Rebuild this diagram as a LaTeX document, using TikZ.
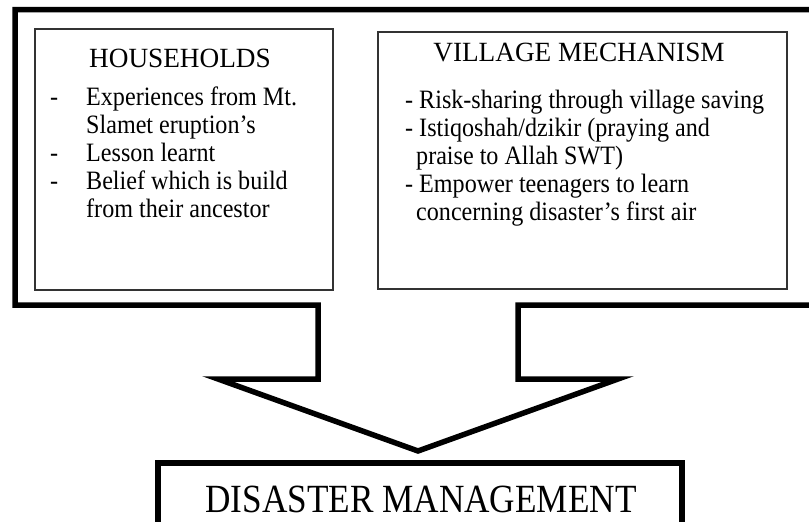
\documentclass[tikz,border=0pt]{standalone}
\usepackage{fontspec}
\setmainfont{Liberation Serif}
\newfontfamily\bodyfont{Liberation Serif}[FakeStretch=0.91]
\newfontfamily\headfont{Liberation Serif}[FakeStretch=0.98]
\newfontfamily\bigfont{Liberation Serif}[FakeStretch=0.88]
\begin{document}
\begin{tikzpicture}[x=1pt,y=-1pt,
  thickline/.style={line width=5.5pt,line join=miter},
  thinbox/.style={draw=black!80,line width=1.3pt},
  head/.style={anchor=base,inner sep=0pt,font=\headfont\fontsize{27.8}{32}\selectfont},
  body/.style={anchor=base west,inner sep=0pt,font=\bodyfont\fontsize{26.5}{32}\selectfont},
  big/.style={anchor=base,inner sep=0pt,font=\bigfont\fontsize{40}{48}\selectfont}]
\useasboundingbox (0,0) rectangle (809,522);
\clip (0,0) rectangle (809,522);
% outer frame with arrow
\draw[thickline] (840,9.5) -- (15,9.5) -- (15,305) -- (318,305) -- (318,379)
  -- (218,379) -- (418,451) -- (618,379) -- (518,379) -- (518,305) -- (840,305);
% inner boxes
\draw[thinbox] (35,29) rectangle (333,290);
\draw[thinbox] (378,32) rectangle (787,289);
% households
\node[head] (hh) at (180,67) {HOUSEHOLDS};
\node[body] (hd1) at (50,105) {-};
\node[body] (h1) at (86,105) {Experiences from Mt.};
\node[body] (h2) at (86,133) {Slamet eruption’s};
\node[body] (hd3) at (50,161) {-};
\node[body] (h3) at (86,161) {Lesson learnt};
\node[body] (hd4) at (50,189) {-};
\node[body] (h4) at (86,189) {Belief which is build};
\node[body] (h5) at (86,217) {from their ancestor};
% village
\node[head] (vm) at (579,61) {VILLAGE MECHANISM};
\node[body] (v1) at (405,108) {- Risk-sharing through village saving};
\node[body] (v2) at (405,136) {- Istiqoshah/dzikir (praying and};
\node[body] (v3) at (416,164) {praise to Allah SWT)};
\node[body] (v4) at (405,192) {- Empower teenagers to learn};
\node[body] (v5) at (416,220) {concerning disaster’s first air};
% disaster management
\draw[thickline] (158,540) -- (158,463) -- (682,463) -- (682,540);
\node[big] (dm) at (421,512) {DISASTER MANAGEMENT};
\end{tikzpicture}
\end{document}
